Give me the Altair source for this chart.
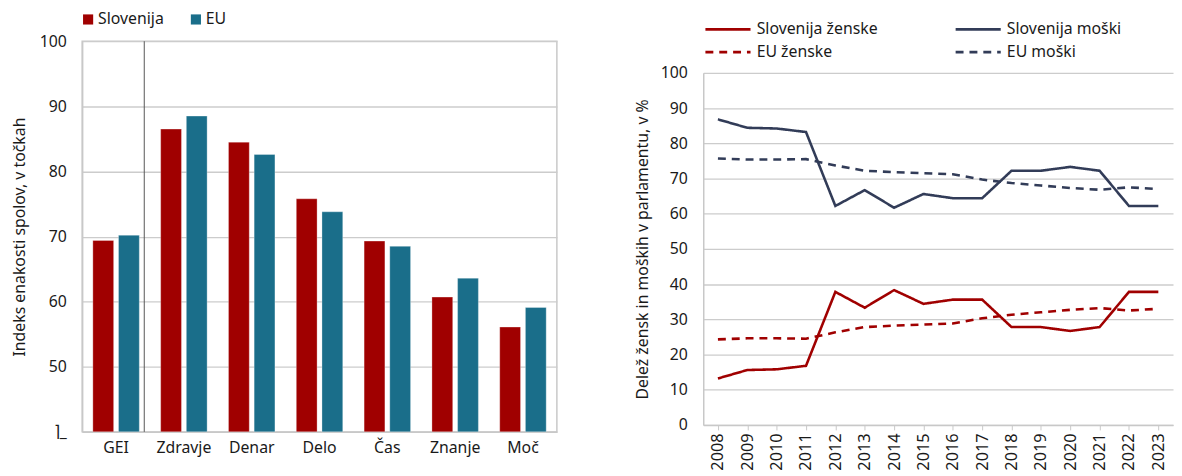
import altair as alt
import pandas as pd

FONT = "Noto Sans"
RED = "#a00000"
TEAL = "#1a6e8a"
NAVY = "#323c58"
FS = 16

# Left chart data
cats = ["GEI", "Zdravje", "Denar", "Delo", "Čas", "Znanje", "Moč"]
si_vals = [69.4, 86.5, 84.5, 75.8, 69.3, 60.7, 56.1]
eu_vals = [70.2, 88.5, 82.6, 73.8, 68.5, 63.6, 59.1]
bar_series = ["Slovenija", "EU"]

# Right chart data
years = [str(y) for y in range(2008, 2024)]
si_m = [86.8, 84.4, 84.2, 83.2, 62.2, 66.7, 61.7, 65.6, 64.4, 64.4, 72.2, 72.2, 73.3, 72.2, 62.2, 62.2]
si_z = [13.2, 15.6, 15.8, 16.8, 37.8, 33.3, 38.3, 34.4, 35.6, 35.6, 27.8, 27.8, 26.7, 27.8, 37.8, 37.8]
eu_m = [75.7, 75.4, 75.4, 75.5, 73.7, 72.2, 71.8, 71.5, 71.2, 69.7, 68.7, 68.0, 67.3, 66.8, 67.5, 67.0]
eu_z = [24.3, 24.6, 24.6, 24.5, 26.3, 27.8, 28.2, 28.5, 28.8, 30.3, 31.3, 32.0, 32.7, 33.2, 32.5, 33.0]
# legend order (filled column by column)
line_series = ["Slovenija ženske", "EU ženske", "Slovenija moški", "EU moški"]

bars = pd.DataFrame(
    [{"cat": c, "series": "Slovenija", "val": v} for c, v in zip(cats, si_vals)]
    + [{"cat": c, "series": "EU", "val": v} for c, v in zip(cats, eu_vals)]
)
sep = pd.DataFrame({"cat": ["GEI"]})

lines = pd.DataFrame(
    [{"year": y, "series": "Slovenija ženske", "val": v} for y, v in zip(years, si_z)]
    + [{"year": y, "series": "Slovenija moški", "val": v} for y, v in zip(years, si_m)]
    + [{"year": y, "series": "EU ženske", "val": v} for y, v in zip(years, eu_z)]
    + [{"year": y, "series": "EU moški", "val": v} for y, v in zip(years, eu_m)]
)

xscale = alt.Scale(domain=cats, paddingInner=0.315, paddingOuter=0.1575)

bar_layer = alt.Chart(bars).mark_bar(stroke="white", strokeWidth=0.6, strokeOpacity=0.5).encode(
    x=alt.X("cat:N", sort=cats, scale=xscale,
            axis=alt.Axis(title=None, labelAngle=0, ticks=False, labelPadding=8,
                          domainColor="#c8c8c8", domainWidth=1.5)),
    xOffset=alt.XOffset("series:N", sort=bar_series,
                        scale=alt.Scale(domain=bar_series, paddingInner=0.19, paddingOuter=0)),
    y=alt.Y("val:Q",
            scale=alt.Scale(domain=[40, 100], nice=False, zero=False),
            axis=alt.Axis(title="Indeks enakosti spolov, v točkah",
                          values=[40, 50, 60, 70, 80, 90, 100],
                          labelExpr="datum.value == 40 ? '⌉_' : datum.label",
                          ticks=False, labelPadding=16, titlePadding=12,
                          domainColor="#c8c8c8", domainWidth=1.5)),
    y2=alt.Y2(datum=40),
    color=alt.Color("series:N", sort=bar_series,
                    scale=alt.Scale(domain=bar_series, range=[RED, TEAL]),
                    legend=alt.Legend(title=None, orient="none", legendX=-2, legendY=-30,
                                      direction="horizontal", columns=2, symbolType="square",
                                      symbolSize=105, symbolStrokeWidth=0, symbolOpacity=1,
                                      labelFontSize=FS, labelOffset=2, columnPadding=24,
                                      padding=0)),
)

sep_layer = alt.Chart(sep).mark_rule(color="#555555", strokeWidth=1, xOffset=5).encode(
    x=alt.X("cat:N", sort=cats, scale=xscale, bandPosition=1)
)

left = alt.layer(bar_layer, sep_layer).properties(width=480, height=395)

RH = 388
right = alt.Chart(lines).mark_line(strokeWidth=2.6).encode(
    x=alt.X("year:O", sort=years,
            scale=alt.Scale(type="point", padding=0.5),
            axis=alt.Axis(title=None, labelAngle=-90, tickSize=5, tickColor="#c8c8c8",
                          labelPadding=3, labelFontSize=16.5,
                          domainColor="#c8c8c8", domainWidth=1.5)),
    y=alt.Y("val:Q", scale=alt.Scale(domain=[0, 100], nice=False, range=[RH, 32]),
            axis=alt.Axis(title="Delež žensk in moških v parlamentu, v %",
                          values=list(range(0, 101, 10)), ticks=False,
                          labelPadding=16, titlePadding=10,
                          domainColor="#c8c8c8", domainWidth=1.5)),
    color=alt.Color("series:N", sort=line_series,
                    scale=alt.Scale(domain=line_series, range=[RED, RED, NAVY, NAVY]),
                    legend=alt.Legend(title=None, orient="none", legendX=17, legendY=-20,
                                      columns=2, symbolType="M-4,0L4,0", symbolSize=130,
                                      symbolStrokeWidth=2.6, labelFontSize=FS,
                                      labelOffset=21, columnPadding=72, rowPadding=7,
                                      padding=0)),
    strokeDash=alt.StrokeDash("series:N", sort=line_series,
                              scale=alt.Scale(domain=line_series,
                                              range=[[1, 0], [8, 6], [1, 0], [8, 6]]),
                              legend=None),
).properties(width=475, height=RH, view=alt.ViewBackground(stroke="transparent"))

chart = alt.hconcat(left, right, spacing=76).resolve_scale(
    color="independent", strokeDash="independent"
).resolve_legend(color="independent").properties(
    padding={"left": 2, "top": 0, "right": 0, "bottom": 0}
).configure(font=FONT).configure_axis(
    labelFont=FONT, titleFont=FONT, labelFontSize=FS, titleFontSize=FS,
    labelColor="#1a1a1a", titleColor="#1a1a1a", titleFontWeight="normal",
    gridColor="#cccccc", gridWidth=1.3
).configure_legend(labelFont=FONT, labelColor="#1a1a1a").configure_view(
    stroke="#c8c8c8", strokeWidth=1.5
)

chart.save("out.html", embed_options={"renderer": "svg", "actions": False})
